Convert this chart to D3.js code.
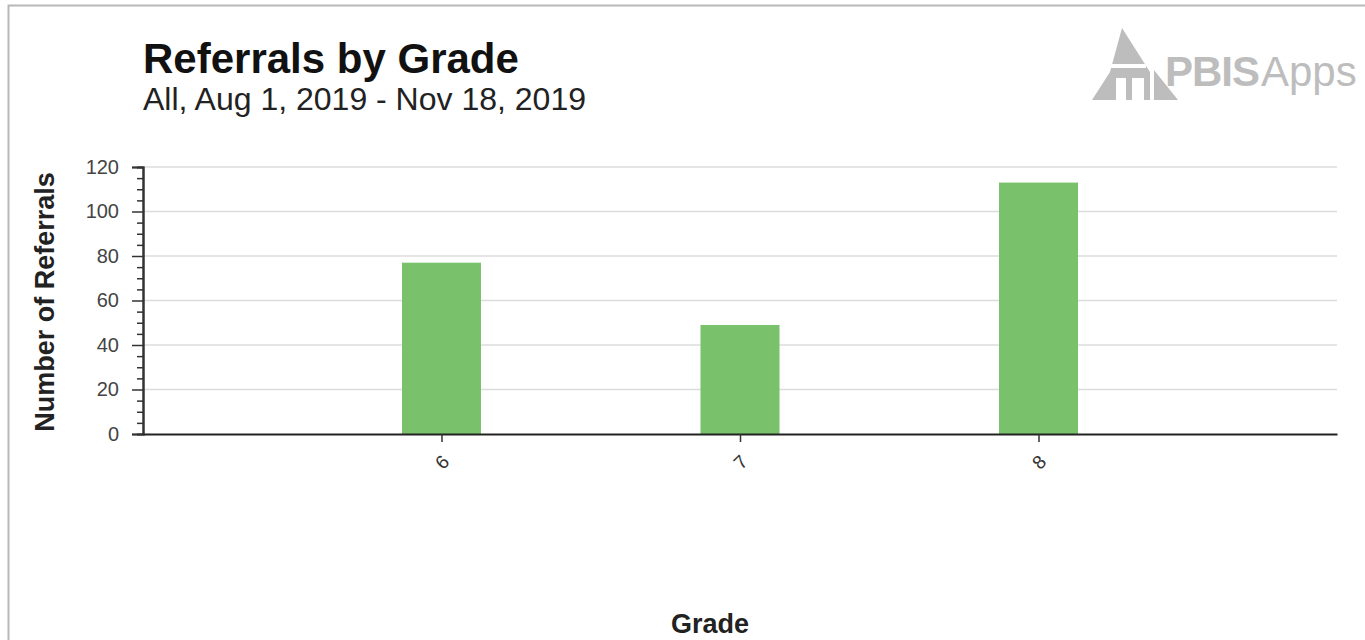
<!doctype html>
<html>
<head>
    <script src="https://d3js.org/d3.v7.min.js"></script>
    <style type="text/css">
        body { margin: 0; background: #fff; }
        svg { font-family: "Liberation Sans", Arial, sans-serif; }
        .grid line { stroke: #dcdcdc; stroke-width: 1.5px; }
        .bar { fill: #79c26b; }
    </style>
</head>
<body>
<svg id="board" width="1365" height="640"></svg>
<script type="text/javascript">
    var grades = ["6", "7", "8"];
    var referrals = [77, 49, 113];
    var yTicks = [0, 20, 40, 60, 80, 100, 120];

    var svg = d3.select("#board");

    // frame
    svg.append("rect")
        .attr("x", 8.5).attr("y", 5.5)
        .attr("width", 1400).attr("height", 700)
        .attr("fill", "none")
        .attr("stroke", "#b8b8b8")
        .attr("stroke-width", 2);

    var plotLeft = 143, plotRight = 1337, plotTop = 167, plotBottom = 434;

    var x = d3.scalePoint()
        .domain(grades)
        .range([plotLeft, plotRight])
        .padding(1);

    var y = d3.scaleLinear()
        .domain([0, 120])
        .range([plotBottom, plotTop]);

    var barW = 79;

    // gridlines
    svg.append("g").attr("class", "grid")
        .selectAll("line")
        .data(yTicks.slice(1))
        .enter().append("line")
        .attr("x1", plotLeft).attr("x2", plotRight)
        .attr("y1", function(d) { return y(d); })
        .attr("y2", function(d) { return y(d); });

    // bars
    svg.append("g")
        .selectAll(".bar")
        .data(grades)
        .enter().append("rect")
        .attr("class", "bar")
        .attr("x", function(d) { return x(d) - barW / 2; })
        .attr("width", barW)
        .attr("y", function(d, i) { return y(referrals[i]); })
        .attr("height", function(d, i) { return plotBottom - y(referrals[i]); });

    // y axis with minor ticks
    var yMinor = svg.append("g").attr("transform", "translate(" + plotLeft + ",0)");
    yMinor.call(d3.axisLeft(y).tickValues(d3.range(0, 121, 5).filter(function(d) { return d % 20 !== 0; }))
        .tickSize(6).tickFormat(""));
    var yMajor = svg.append("g").attr("transform", "translate(" + plotLeft + ",0)");
    yMajor.call(d3.axisLeft(y).tickValues(yTicks).tickSize(11).tickPadding(13));
    yMajor.selectAll("text").attr("font-size", 20).attr("fill", "#444")
        .attr("font-family", "Liberation Sans, Arial, sans-serif");
    svg.selectAll(".domain").attr("stroke", "#333").attr("stroke-width", 2);
    svg.selectAll(".tick line").attr("stroke", "#333").attr("stroke-width", 1.5);

    // x axis
    var xAxisG = svg.append("g").attr("transform", "translate(0," + plotBottom + ")");
    xAxisG.call(d3.axisBottom(x).tickSize(8).tickSizeOuter(0).tickPadding(10));
    xAxisG.select(".domain").attr("stroke", "#222").attr("stroke-width", 2);
    xAxisG.selectAll(".tick line").attr("stroke", "#333").attr("stroke-width", 1.5);
    xAxisG.selectAll("text")
        .attr("font-size", 19).attr("fill", "#333")
        .attr("font-family", "Liberation Sans, Arial, sans-serif")
        .attr("text-anchor", "middle")
        .attr("dy", "0.35em")
        .attr("y", 28)
        .attr("transform", "rotate(-45,0,28)");

    // titles
    svg.append("text")
        .attr("x", 143).attr("y", 73)
        .attr("font-size", 42).attr("font-weight", "bold").attr("fill", "#111")
        .text("Referrals by Grade");
    svg.append("text")
        .attr("x", 143).attr("y", 110)
        .attr("font-size", 32).attr("fill", "#222")
        .text("All, Aug 1, 2019 - Nov 18, 2019");

    svg.append("text")
        .attr("transform", "translate(54,302) rotate(-90)")
        .attr("text-anchor", "middle")
        .attr("font-size", 27).attr("font-weight", "bold").attr("fill", "#222")
        .text("Number of Referrals");

    svg.append("text")
        .attr("x", 710).attr("y", 633)
        .attr("text-anchor", "middle")
        .attr("font-size", 27).attr("font-weight", "bold").attr("fill", "#222")
        .text("Grade");

    // logo
    var logo = svg.append("g").attr("fill", "#bdbdbd");
    logo.append("path").attr("d", "M1122,28 L1150,72 L1150,100 L1144,100 L1144,78 L1132,78 L1132,100 L1126,100 L1126,78 L1116,78 L1116,100 L1092,100 L1110,72 Z");
    logo.append("path").attr("d", "M1154,70 L1178,100 L1154,100 Z");
    logo.append("rect").attr("x", 1108).attr("y", 64).attr("width", 38).attr("height", 4).attr("fill", "#fff");
    logo.append("text")
        .attr("x", 1165).attr("y", 86)
        .attr("font-size", 42).attr("font-weight", "bold").attr("letter-spacing", -1)
        .text("PBIS");
    logo.append("text")
        .attr("x", 1261).attr("y", 86)
        .attr("font-size", 42)
        .text("Apps");
</script>
</body>
</html>
